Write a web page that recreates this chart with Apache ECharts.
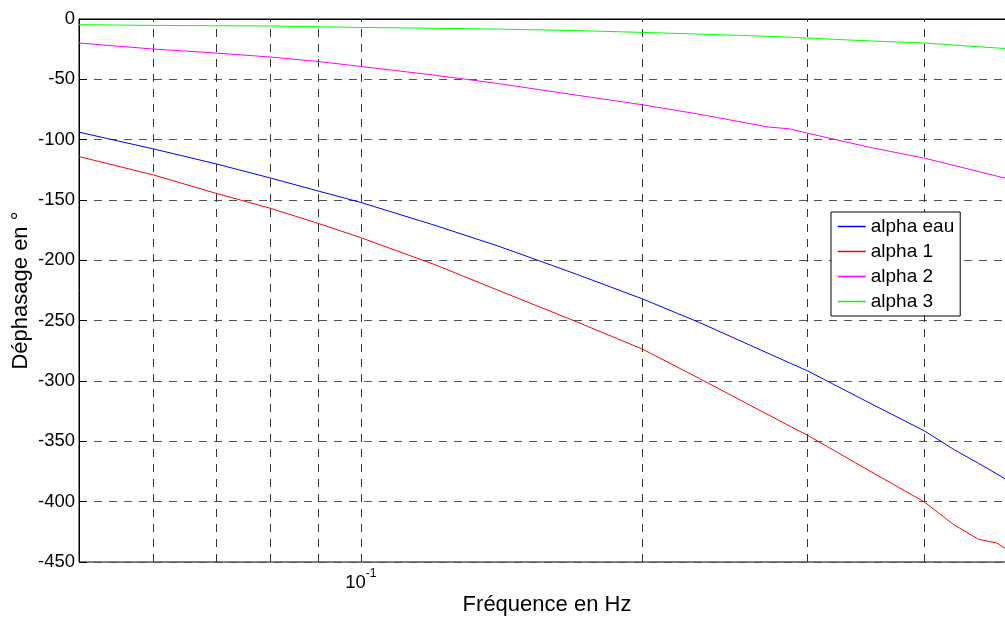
<!DOCTYPE html>
<html>
<head>
<meta charset="utf-8">
<script src="https://cdn.jsdelivr.net/npm/echarts@6/dist/echarts.min.js"></script>
<style>html,body{margin:0;padding:0;background:#fff;overflow:hidden;}#c{width:1005px;height:619px;}</style>
</head>
<body>
<div id="c"></div>
<script>
// Frequencies (Hz)
var freq = [0.05, 0.06, 0.07, 0.08, 0.09, 0.1, 0.12, 0.14, 0.155, 0.17, 0.2, 0.23, 0.26, 0.273, 0.287, 0.3, 0.35, 0.4, 0.43, 0.457, 0.478, 0.5];
// Phase shift (degrees)
var alphaEau = [-93.8, -107.6, -120, -131.7, -142.5, -152, -171, -188, -200.3, -211.5, -232, -251.5, -270, -277.4, -284.9, -291.5, -318.4, -341.3, -356.7, -368.2, -376.9, -386];
var alpha1 = [-114, -129.2, -144.4, -156.8, -169.3, -181.2, -203.6, -224.6, -238.4, -250.9, -273.6, -297.9, -319.7, -328.3, -337.2, -344.9, -374.7, -400.2, -419, -431.2, -434.2, -444];
var alpha2 = [-19.9, -24.9, -28.2, -31.5, -35.2, -39.3, -46.6, -53.4, -58.5, -63.1, -71.1, -78.9, -86.6, -89.6, -91, -94.6, -106.4, -115.3, -121.3, -126.4, -130.2, -134];
var alpha3 = [-4.7, -5.3, -5.6, -5.8, -6.4, -7, -7.7, -8.4, -9, -9.6, -11.1, -12.5, -13.8, -14.4, -15.1, -15.8, -18.2, -19.9, -21.6, -23, -24, -25];
var seriesNames = ['alpha eau', 'alpha 1', 'alpha 2', 'alpha 3'];
var xGrid = [0.06, 0.07, 0.08, 0.09, 0.1, 0.2, 0.3, 0.4];

var FONT = "'Liberation Sans', Arial, Helvetica, sans-serif";
function pairs(ys) { return freq.map(function (f, i) { return [f, ys[i]]; }); }
function lineSeries(name, ys, color) {
  return {
    name: name, type: 'line', data: pairs(ys), symbol: 'none', z: 3,
    lineStyle: { color: color, width: 1 }, itemStyle: { color: color }
  };
}

var chart = echarts.init(document.getElementById('c'), null, { renderer: 'canvas' });
chart.setOption({
  animation: false,
  backgroundColor: '#fff',
  textStyle: { fontFamily: FONT },
  grid: { left: 79, top: 19, width: 936, height: 543, show: true, borderColor: '#000', borderWidth: 1, containLabel: false, outerBoundsMode: 'none' },
  legend: {
    data: seriesNames, orient: 'vertical', left: 831, top: 212, z: 20,
    padding: [5, 6, 5, 6], itemWidth: 28, itemHeight: 19, itemGap: 6,
    backgroundColor: '#fff', borderColor: '#000', borderWidth: 1, borderRadius: 0,
    itemStyle: { opacity: 0 },
    lineStyle: { width: 1.5 },
    textStyle: { fontFamily: FONT, fontSize: 19, color: '#000' }
  },
  xAxis: {
    type: 'log', logBase: 10, min: 0.05, max: 0.5,
    name: 'Fréquence en Hz', nameLocation: 'middle', nameGap: 32, nameMoveOverlap: false,
    nameTextStyle: { fontFamily: FONT, fontSize: 22, color: '#000' },
    axisLine: { show: true, lineStyle: { color: '#000', width: 1 } },
    axisTick: { show: false },
    splitLine: { show: false },
    axisLabel: {
      margin: 6, color: '#000', showMinLabel: false, showMaxLabel: false,
      formatter: function (v) { return Math.abs(v - 0.1) < 1e-6 ? '{b|10}{s|-1}' : ''; },
      rich: {
        b: { fontFamily: FONT, fontSize: 18.5, color: '#000', padding: [5, 0, 0, 0] },
        s: { fontFamily: FONT, fontSize: 12, color: '#000', verticalAlign: 'top' }
      }
    }
  },
  yAxis: {
    type: 'value', min: -450, max: 0, interval: 50,
    name: 'Déphasage en °', nameLocation: 'middle', nameGap: 47, nameMoveOverlap: false,
    nameTextStyle: { fontFamily: FONT, fontSize: 22, color: '#000' },
    axisLine: { show: true, lineStyle: { color: '#000', width: 1 } },
    axisTick: { show: true, inside: true, length: 8, lineStyle: { color: '#000' } },
    axisLabel: { margin: 4, color: '#000', fontFamily: FONT, fontSize: 18.5 },
    splitLine: { show: true, lineStyle: { color: '#555', width: 1, type: [8, 7] } }
  },
  series: [
    {
      name: 'grid', type: 'line', data: [], z: 1, silent: true,
      markLine: {
        silent: true, symbol: 'none', label: { show: false }, animation: false, z: 1,
        lineStyle: { color: '#333', width: 1, type: [8, 7] },
        data: xGrid.map(function (v) { return { xAxis: v }; })
      }
    },
    lineSeries(seriesNames[0], alphaEau, '#0000ff'),
    lineSeries(seriesNames[1], alpha1, '#ff0000'),
    lineSeries(seriesNames[2], alpha2, '#ff00ff'),
    lineSeries(seriesNames[3], alpha3, '#00ff00')
  ]
});
</script>
</body>
</html>
